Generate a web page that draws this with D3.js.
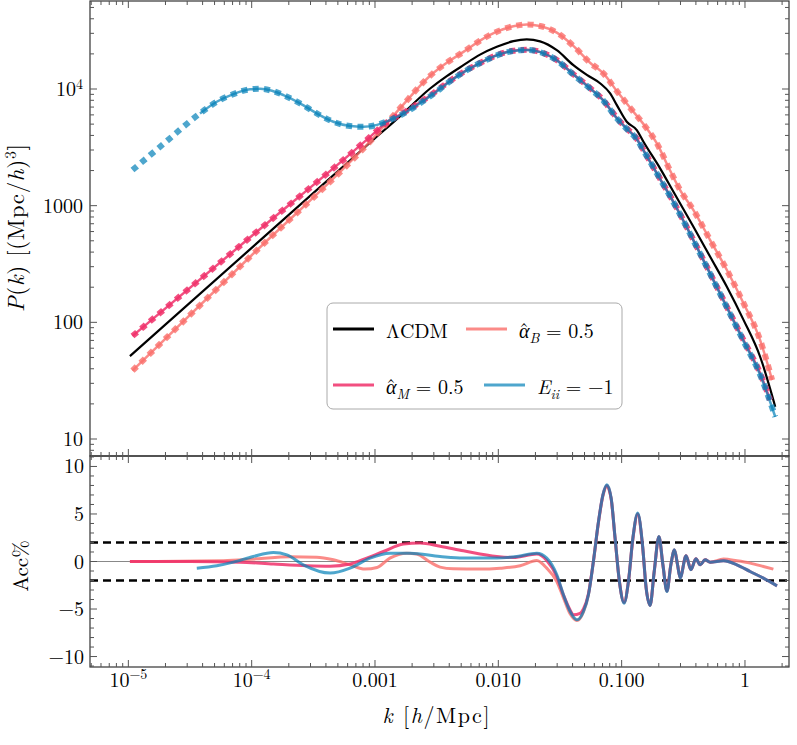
<!DOCTYPE html>
<html>
<head>
<meta charset="utf-8">
<script src="https://cdn.jsdelivr.net/npm/d3@7"></script>
<style>
  body { margin: 0; background: #fff; }
  svg { display: block; }
</style>
</head>
<body>
<div id="chart"></div>
<script>
// power spectra, [k (h/Mpc), P(k)]
const lcdm = [[1.03e-5,51.4],[1e-4,435],[1e-3,3780],[1.6e-3,5860],[2.8e-3,10100],[3.82e-3,12900],[5.21e-3,16000],[7.11e-3,19700],[9.72e-3,23000],[0.01324,25700],[0.017,26600],[0.0218,25600],[0.0298,21500],[0.0406,16000],[0.0522,13200],[0.0668,11200],[0.0807,9170],[0.0914,7280],[0.11,5240],[0.1327,4450],[0.1503,3530],[0.205,2090],[0.263,1316],[0.382,659],[0.522,365],[0.713,202],[0.973,105],[1.327,50.7],[1.76,18.9]];
const alphaB = [[1.08e-5,38.5],[1e-4,376],[9.66e-4,3790],[1.6e-3,6860],[2.8e-3,13000],[3.82e-3,16800],[5.21e-3,20800],[7.11e-3,26000],[9.72e-3,31000],[0.01324,34500],[0.017,35800],[0.0218,34700],[0.0298,30400],[0.0406,23400],[0.0554,16800],[0.0711,13600],[0.0914,9600],[0.1172,6900],[0.1503,5000],[0.193,3420],[0.247,2000],[0.298,1360],[0.382,917],[0.522,507],[0.713,281],[0.973,146],[1.327,70.5],[1.66,32]];
const alphaM = [[1.08e-5,76.3],[1e-4,549],[9.12e-4,3890],[1.17e-3,4910],[1.81e-3,6500],[2.8e-3,8800],[3.82e-3,11200],[5.21e-3,14000],[7.11e-3,16700],[9.72e-3,19500],[0.01324,21300],[0.017,21700],[0.0218,20800],[0.0298,17700],[0.0406,13400],[0.0554,10200],[0.0711,8000],[0.0914,5650],[0.11,4600],[0.1327,3750],[0.1503,3000],[0.205,1700],[0.263,1080],[0.382,507],[0.522,263],[0.713,136],[0.973,70.5],[1.327,36.6],[1.6,21.6]];
const eii = [[1.08e-5,2020],[1.5e-5,2710],[2.05e-5,3580],[2.79e-5,4740],[3.81e-5,6180],[5.21e-5,7770],[7.11e-5,9040],[9.7e-5,9930],[1.17e-4,10040],[1.46e-4,9660],[1.81e-4,8870],[2.47e-4,7530],[3.37e-4,6180],[4.6e-4,5240],[6.28e-4,4810],[8.05e-4,4740],[1.04e-3,4930],[1.32e-3,5410],[1.81e-3,6380],[2.47e-3,7900],[3.37e-3,10000],[3.82e-3,11100],[5.21e-3,13900],[7.11e-3,16700],[9.72e-3,19400],[0.01324,21200],[0.017,21600],[0.0218,20700],[0.0298,17600],[0.0406,13300],[0.0554,10100],[0.0711,7950],[0.0914,5600],[0.11,4550],[0.1327,3700],[0.1503,2970],[0.205,1690],[0.263,1070],[0.382,503],[0.522,260],[0.713,134],[0.973,69],[1.327,35.5],[1.76,15.5]];
const eiiLineFrom = 3.5e-5; // solid E_ii curve starts here, markers go further left

// accuracy, [k, Acc %]
const accB = [[1.03e-5,0],[5.89e-5,0.07],[1.1e-4,0.28],[2.05e-4,0.49],[3.37e-4,0.46],[4.6e-4,0.18],[6.28e-4,-0.35],[8.3e-4,-0.8],[1.04e-3,-0.63],[1.32e-3,0.36],[1.81e-3,0.88],[2.18e-3,0.78],[2.8e-3,-0.07],[3.37e-3,-0.59],[4.33e-3,-0.77],[7.11e-3,-0.8],[0.01035,-0.7],[0.01503,-0.45],[0.0205,0.1],[0.0247,-0.7],[0.0298,-2.1],[0.0337,-3.8],[0.0382,-5.5],[0.0434,-6.2],[0.049,-5.3],[0.0538,-3.5],[0.059,0],[0.0649,4.1],[0.0705,6.9],[0.0759,7.9],[0.0822,6.6],[0.0885,2.4],[0.0959,-2.1],[0.1047,-4.3],[0.1135,-2.1],[0.1233,2.4],[0.135,5.0],[0.1476,1.7],[0.158,-2.8],[0.17,-4.6],[0.1837,-1.05],[0.2005,2.6],[0.216,-0.35],[0.233,-3.1],[0.2506,-0.35],[0.268,1.2],[0.284,-0.35],[0.298,-1.7],[0.333,0.6],[0.364,-0.85],[0.4,0.28],[0.434,-0.35],[0.475,0.18],[0.522,-0.07],[0.67,0.25],[0.859,0.07],[1.1,-0.17],[1.41,-0.52],[1.7,-0.8]];
const accM = [[1.03e-5,0],[3.16e-5,0],[8.05e-5,-0.07],[1.5e-4,-0.27],[2.8e-4,-0.45],[4.33e-4,-0.5],[6.28e-4,-0.27],[8.57e-4,0.36],[1.17e-3,1.05],[1.7e-3,1.83],[2.32e-3,1.94],[3.37e-3,1.6],[5.21e-3,1.13],[9.72e-3,0.53],[0.01324,0.42],[0.0205,0.78],[0.0247,0.1],[0.0298,-1.6],[0.0337,-3.5],[0.0382,-5.1],[0.0406,-5.6],[0.046,-5.45],[0.049,-5.0],[0.0538,-3.4],[0.059,0],[0.0649,4.2],[0.0705,7.0],[0.0759,8.0],[0.0822,6.6],[0.0885,2.4],[0.0959,-2.1],[0.1047,-4.3],[0.1135,-2.1],[0.1233,2.4],[0.135,5.0],[0.1476,1.7],[0.158,-2.8],[0.17,-4.6],[0.1837,-1.05],[0.2005,2.6],[0.216,-0.35],[0.233,-3.1],[0.2506,-0.35],[0.268,1.2],[0.284,-0.35],[0.298,-1.7],[0.333,0.6],[0.364,-0.85],[0.4,0.28],[0.434,-0.35],[0.475,0.18],[0.522,-0.07],[0.67,0.07],[0.859,-0.35],[1.1,-1.05],[1.41,-1.75],[1.82,-2.56]];
const accE = [[3.59e-5,-0.7],[5.21e-5,-0.45],[7.11e-5,-0.07],[1.03e-4,0.53],[1.5e-4,0.95],[1.93e-4,0.7],[2.62e-4,-0.35],[4.33e-4,-1.22],[6.28e-4,-0.7],[9.12e-4,0.36],[1.32e-3,0.88],[1.93e-3,0.88],[3.37e-3,0.53],[5.21e-3,0.36],[9.72e-3,0.36],[0.01413,0.53],[0.0205,0.88],[0.0247,0.36],[0.0298,-1.4],[0.0337,-3.5],[0.0382,-5.26],[0.0434,-6.14],[0.049,-5.26],[0.0538,-3.5],[0.059,0],[0.0649,4.2],[0.0705,7.0],[0.0759,8.07],[0.0822,6.67],[0.0885,2.46],[0.0959,-2.1],[0.1047,-4.38],[0.1135,-2.1],[0.1233,2.46],[0.135,5.1],[0.1476,1.76],[0.158,-2.8],[0.17,-4.63],[0.1837,-1.05],[0.2005,2.63],[0.216,-0.35],[0.233,-3.16],[0.2506,-0.35],[0.268,1.23],[0.284,-0.35],[0.298,-1.75],[0.333,0.6],[0.364,-0.87],[0.4,0.28],[0.434,-0.35],[0.475,0.18],[0.522,-0.07],[0.67,0.07],[0.859,-0.35],[1.1,-1.05],[1.41,-1.75],[1.82,-2.56]];
const accBand = [-2, 2];

// axis labels
const xMajor = [1e-5, 1e-4, 1e-3, 1e-2, 1e-1, 1];
const xTickLabels = [["10", "−5"], ["10", "−4"], ["0.001"], ["0.010"], ["0.100"], ["1"]];
const pMajor = [10, 100, 1000, 1e4];
const pTickLabels = [["10"], ["100"], ["1000"], ["10", "4"]];
const accMajor = [-10, -5, 0, 5, 10];
const accTickLabels = ["−10", "−5", "0", "5", "10"];

const width = 797, height = 745;
const pLeft = 90, pRight = 789, pTop = 1, pMid = 456, pBottom = 667;
const ff = '"Latin Modern Roman", "Liberation Serif", serif';

const svg = d3.select("#chart").append("svg")
    .attr("width", width)
    .attr("height", height);

const x = d3.scaleLog().domain([4.887e-6, 2.275]).range([pLeft, pRight]);
const yP = d3.scaleLog().domain([7.15, 56800]).range([pMid, pTop]);
const yA = d3.scaleLinear().domain([-11.1, 11.1]).range([pBottom, pMid]);

const defs = svg.append("defs");
defs.append("clipPath").attr("id", "clipTop").append("rect")
    .attr("x", pLeft).attr("y", pTop).attr("width", pRight - pLeft).attr("height", pMid - pTop);
defs.append("clipPath").attr("id", "clipBot").append("rect")
    .attr("x", pLeft).attr("y", pMid).attr("width", pRight - pLeft).attr("height", pBottom - pMid);

const lineP = d3.line().x(d => x(d[0])).y(d => yP(d[1])).curve(d3.curveMonotoneX);
const lineA = d3.line().x(d => x(d[0])).y(d => yA(d[1])).curve(d3.curveMonotoneX);

const colB = "#fa6e6a", colM = "#f0306a", colE = "#0380b8";

// top panel curves
const gTop = svg.append("g").attr("clip-path", "url(#clipTop)");
gTop.append("path").datum(lcdm)
    .attr("d", lineP).attr("fill", "none")
    .attr("stroke", "#000").attr("stroke-width", 2.2);

const models = [
    { data: alphaB, color: colB, op: 0.8, from: 0 },
    { data: alphaM, color: colM, op: 0.85, from: 0 },
    { data: eii, color: colE, op: 0.7, from: eiiLineFrom }
];
models.forEach(m => {
    gTop.append("path").datum(m.data.filter(d => d[0] >= m.from))
        .attr("d", lineP).attr("fill", "none")
        .attr("stroke", m.color).attr("stroke-opacity", m.op)
        .attr("stroke-width", 2.5);
    gTop.append("path").datum(m.data)
        .attr("d", lineP).attr("fill", "none")
        .attr("stroke", m.color).attr("stroke-opacity", m.op)
        .attr("stroke-width", 6)
        .attr("stroke-dasharray", "6 5.3");
});

// bottom panel
const gBot = svg.append("g").attr("clip-path", "url(#clipBot)");
gBot.append("line")
    .attr("x1", pLeft).attr("x2", pRight)
    .attr("y1", yA(0)).attr("y2", yA(0))
    .attr("stroke", "#888").attr("stroke-width", 1.2);
gBot.selectAll(".band").data(accBand).join("line")
    .attr("x1", pLeft).attr("x2", pRight)
    .attr("y1", d => yA(d)).attr("y2", d => yA(d))
    .attr("stroke", "#000").attr("stroke-width", 2.6)
    .attr("stroke-dasharray", "8 5");

[[accB, colB, 0.8], [accM, colM, 0.85], [accE, colE, 0.7]].forEach(([data, c, op]) => {
    gBot.append("path").datum(data)
        .attr("d", lineA).attr("fill", "none")
        .attr("stroke", c).attr("stroke-opacity", op)
        .attr("stroke-width", 3);
});

// frames
svg.append("rect").attr("x", pLeft).attr("y", pTop).attr("width", pRight - pLeft).attr("height", pMid - pTop)
    .attr("fill", "none").attr("stroke", "#333").attr("stroke-width", 1.2);
svg.append("rect").attr("x", pLeft).attr("y", pMid).attr("width", pRight - pLeft).attr("height", pBottom - pMid)
    .attr("fill", "none").attr("stroke", "#333").attr("stroke-width", 1.2);

// ticks
const isDecade = v => Math.abs(Math.log10(v) - Math.round(Math.log10(v))) < 1e-6;
const tickG = svg.append("g").attr("stroke", "#555").attr("stroke-width", 1);

function xTicks(yEdge, dir) {
    tickG.append("g").selectAll("line").data(x.ticks()).join("line")
        .attr("x1", d => x(d)).attr("x2", d => x(d))
        .attr("y1", yEdge).attr("y2", d => yEdge + dir * (isDecade(d) ? 7 : 4));
}
function yTicks(scale, vals, major, xEdge, dir) {
    tickG.append("g").selectAll("line").data(vals).join("line")
        .attr("y1", d => scale(d)).attr("y2", d => scale(d))
        .attr("x1", xEdge).attr("x2", d => xEdge + dir * (major(d) ? 7 : 4));
}
xTicks(pTop, 1); xTicks(pMid, -1); xTicks(pMid, 1); xTicks(pBottom, -1);
const pTicks = yP.ticks();
yTicks(yP, pTicks, isDecade, pLeft, 1);
yTicks(yP, pTicks, isDecade, pRight, -1);
const aTicks = d3.range(-11, 12);
yTicks(yA, aTicks, d => d % 5 === 0, pLeft, 1);
yTicks(yA, aTicks, d => d % 5 === 0, pRight, -1);

// tick labels
function addLabel(g, parts, supDy) {
    g.append("tspan").text(parts[0]);
    if (parts[1]) g.append("tspan").attr("dy", supDy).attr("font-size", 14).text(parts[1]);
}
svg.append("g").selectAll("text").data(xMajor).join("text")
    .attr("x", d => x(d)).attr("y", 687)
    .attr("text-anchor", "middle").attr("font-size", 20)
    .each(function(d, i) { addLabel(d3.select(this), xTickLabels[i], -8); });
svg.append("g").selectAll("text").data(pMajor).join("text")
    .attr("x", 83).attr("y", d => yP(d) + 7)
    .attr("text-anchor", "end").attr("font-size", 20)
    .each(function(d, i) { addLabel(d3.select(this), pTickLabels[i], -7); });
svg.append("g").selectAll("text").data(accMajor).join("text")
    .attr("x", 84).attr("y", d => yA(d) + 7)
    .attr("text-anchor", "end").attr("font-size", 20)
    .text((d, i) => accTickLabels[i]);

// axis titles
const xt = svg.append("text").attr("x", 436).attr("y", 723)
    .attr("text-anchor", "middle").attr("font-size", 22)
    .attr("textLength", 107);
xt.append("tspan").attr("font-style", "italic").text("k");
xt.append("tspan").text(" [");
xt.append("tspan").attr("font-style", "italic").text("h");
xt.append("tspan").text("/Mpc]");

const yt = svg.append("text").attr("transform", "translate(24,228) rotate(-90)")
    .attr("text-anchor", "middle").attr("font-size", 23)
    .attr("textLength", 168);
yt.append("tspan").attr("font-style", "italic").text("P");
yt.append("tspan").text("(");
yt.append("tspan").attr("font-style", "italic").text("k");
yt.append("tspan").text(") [(Mpc/");
yt.append("tspan").attr("font-style", "italic").text("h");
yt.append("tspan").text(")");
yt.append("tspan").attr("dy", -8).attr("font-size", 16).text("3");
yt.append("tspan").attr("dy", 8).text("]");

svg.append("text").attr("transform", "translate(28,566) rotate(-90)")
    .attr("text-anchor", "middle").attr("font-size", 21)
    .text("Acc%");

// legend
const lg = svg.append("g");
lg.append("rect").attr("x", 327).attr("y", 303).attr("width", 295).attr("height", 106)
    .attr("rx", 6).attr("fill", "#fff").attr("stroke", "#aaa").attr("stroke-width", 1);

const legendItems = [
    { color: "#000", op: 1, x: 333, y: 329, sym: "ΛCDM", sub: "", hat: false, rest: "" },
    { color: colB, op: 0.8, x: 466, y: 329, sym: "α", sub: "B", hat: true, rest: " = 0.5" },
    { color: colM, op: 0.85, x: 333, y: 385, sym: "α", sub: "M", hat: true, rest: " = 0.5" },
    { color: colE, op: 0.7, x: 484, y: 385, sym: "E", sub: "ii", hat: false, rest: " = −1" }
];
legendItems.forEach(it => {
    lg.append("line")
        .attr("x1", it.x).attr("x2", it.x + 41)
        .attr("y1", it.y).attr("y2", it.y)
        .attr("stroke", it.color).attr("stroke-opacity", it.op)
        .attr("stroke-width", 3);
    const t = lg.append("text").attr("x", it.x + 53).attr("y", it.y + 9).attr("font-size", 20);
    if (!it.sub) { t.text(it.sym); return; }
    t.append("tspan").attr("font-style", "italic").text(it.sym);
    if (it.hat) {
        // circumflex over the alpha, then step back to the end of the alpha
        t.append("tspan").attr("dx", -10.5).attr("dy", -1).text("ˆ");
        t.append("tspan").attr("dx", 0.5).attr("dy", 6).attr("font-size", 14).attr("font-style", "italic").text(it.sub);
    } else {
        t.append("tspan").attr("dy", 5).attr("font-size", 14).attr("font-style", "italic").text(it.sub);
    }
    t.append("tspan").attr("dy", -5).text(" " + it.rest.trim().replace("=", "= "));
});

// one font for every text
svg.selectAll("text").style("font-family", ff).attr("fill", "#000");
</script>
</body>
</html>
